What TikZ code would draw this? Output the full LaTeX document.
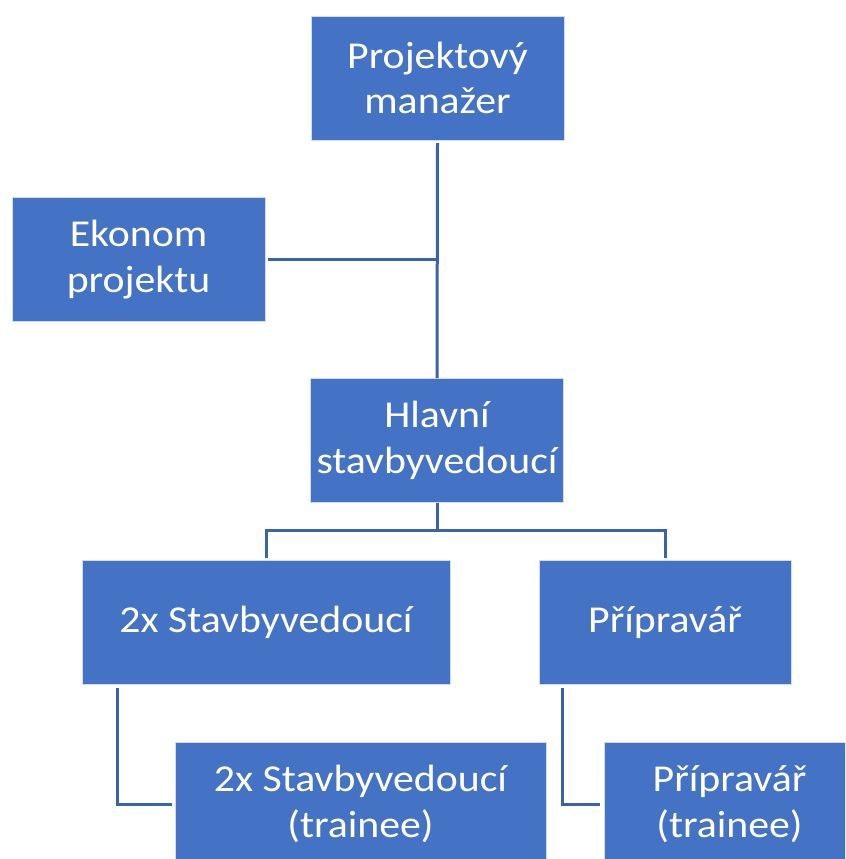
\documentclass[tikz,border=0pt]{standalone}
\usepackage{fontspec}
\setmainfont{Carlito}[FakeStretch=1.1]
\usetikzlibrary{positioning}
\definecolor{boxblue}{HTML}{4472C4}
\definecolor{lineblue}{HTML}{3B62AC}

\begin{document}
\begin{tikzpicture}[x=0.75pt,y=-0.75pt,
  box/.style={fill=boxblue, draw=white!75!boxblue, line width=0.6pt, text=white,
    align=center, inner sep=0pt, minimum height=93pt,
    font=\fontsize{28.5}{34}\selectfont},
  link/.style={draw=lineblue, line width=2.25pt}]
\useasboundingbox (0,0) rectangle (845,859);
\clip (0,0) rectangle (845,859);

% boxes
\node [box, minimum width=189.75pt] (pm) at (437.5,78) {Projektový\\manažer};
\node [box, minimum width=189.75pt] (ek) at (138.5,259.5) {Ekonom\\projektu};
\node [box, minimum width=189.75pt] (hs) at (437,440.5) {Hlavní\\stavbyvedoucí};
\node [box, minimum width=276pt] (sv) at (266,622.5) {2x Stavbyvedoucí};
\node [box, minimum width=189pt] (pr) at (665,622.5) {Přípravář};
\node [box, minimum width=278.25pt] (svt) at (360.5,804) {2x Stavbyvedoucí\\(trainee)};
\node [box, minimum width=188.25pt] (prt) at (729.5,804) {Přípravář\\(trainee)};

% connectors
\coordinate (jm) at (pm.south |- ek.east);
\coordinate (js) at ([yshift=-21pt]hs.south);
\draw [link] ([yshift=-2pt]pm.south) -- (hs.north);
\draw [link] ([xshift=2pt]ek.east) -- (jm);
\draw [link] (hs.south) -- (js);
\draw [link] (js) -| ([yshift=1.5pt]sv.north);
\draw [link] (js) -| ([yshift=1.5pt]pr.north);
\draw [link] ([xshift=26.6pt,yshift=-2pt]sv.south west) |- ([xshift=-2pt]svt.west);
\draw [link] ([xshift=18pt,yshift=-2pt]pr.south west) |- ([xshift=-2.5pt]prt.west);
\end{tikzpicture}
\end{document}
